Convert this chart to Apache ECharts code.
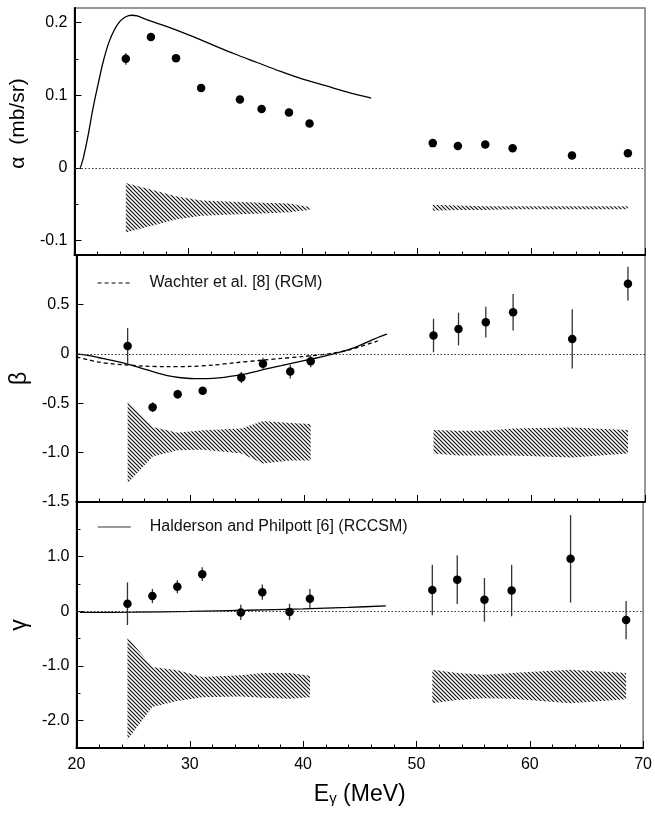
<!DOCTYPE html>
<html><head><meta charset="utf-8">
<script src="https://cdn.jsdelivr.net/npm/echarts@6/dist/echarts.min.js"></script>
<style>html,body{margin:0;padding:0;background:#fff}#c{width:655px;height:814px}</style>
</head><body><div id="c"></div>
<script>
// ---- data ----
const energies   = [24.5, 26.7, 28.9, 31.1, 34.5, 36.4, 38.8, 40.6, 51.4, 53.6, 56.0, 58.4, 63.6, 68.5];
const alphaVals  = [0.150, 0.180, 0.151, 0.110, 0.094, 0.081, 0.076, 0.061, 0.034, 0.030, 0.032, 0.027, 0.017, 0.020];
const alphaErrs  = [0.008, 0.004, 0.004, 0.004, 0.004, 0.004, 0.004, 0.004, 0.003, 0.003, 0.003, 0.003, 0.003, 0.003];
const betaVals   = [0.08, -0.54, -0.41, -0.375, -0.24, -0.10, -0.18, -0.075, 0.185, 0.25, 0.32, 0.42, 0.15, 0.71];
const betaErrs   = [0.18, 0.05, 0.045, 0.04, 0.055, 0.06, 0.07, 0.06, 0.17, 0.165, 0.155, 0.185, 0.30, 0.17];
const gammaVals  = [0.14, 0.28, 0.45, 0.68, -0.02, 0.35, -0.01, 0.23, 0.39, 0.58, 0.21, 0.38, 0.96, -0.16];
const gammaErrs  = [0.39, 0.13, 0.12, 0.125, 0.14, 0.14, 0.15, 0.18, 0.46, 0.445, 0.40, 0.47, 0.80, 0.35];

// systematic-error bands (upper / lower edges)
const bandE1 = [24.5, 26.7, 28.9, 31.1, 34.5, 36.4, 38.8, 40.6];
const bandE2 = [51.4, 53.6, 56.0, 58.4, 63.6, 68.5];
const alphaBandUp1 = [-0.021, -0.030, -0.039, -0.045, -0.047, -0.048, -0.049, -0.054];
const alphaBandLo1 = [-0.089, -0.080, -0.071, -0.066, -0.064, -0.063, -0.061, -0.058];
const alphaBandUp2 = [-0.051, -0.052, -0.053, -0.053, -0.053, -0.053];
const alphaBandLo2 = [-0.059, -0.058, -0.058, -0.057, -0.057, -0.057];
const betaBandUp1  = [-0.475, -0.74, -0.80, -0.775, -0.755, -0.68, -0.70, -0.71];
const betaBandLo1  = [-1.31, -1.04, -0.975, -0.97, -1.01, -1.11, -1.08, -1.08];
const betaBandUp2  = [-0.77, -0.78, -0.78, -0.755, -0.745, -0.77];
const betaBandLo2  = [-1.01, -1.03, -1.03, -1.03, -1.05, -1.01];
const gammaBandUp1 = [-0.47, -1.02, -1.08, -1.20, -1.17, -1.13, -1.13, -1.18];
const gammaBandLo1 = [-2.35, -1.75, -1.64, -1.57, -1.56, -1.58, -1.60, -1.57];
const gammaBandUp2 = [-1.07, -1.13, -1.16, -1.13, -1.07, -1.13];
const gammaBandLo2 = [-1.68, -1.62, -1.59, -1.60, -1.68, -1.61];

// theory curves
const alphaTheoryE = [20.5, 20.6, 20.8, 21.2, 21.6, 22.0, 22.5, 23.0, 23.5, 24.0, 24.5, 25.0, 25.5, 26.5, 28, 30, 32, 34, 36, 38, 40, 42, 44, 46];
const alphaTheory  = [0, 0.004, 0.015, 0.045, 0.08, 0.11, 0.145, 0.172, 0.19, 0.202, 0.208, 0.21, 0.209, 0.203, 0.195, 0.183, 0.17, 0.157, 0.145, 0.133, 0.122, 0.113, 0.104, 0.096];
const betaSolidE = [20, 21, 22, 23, 24, 25, 26, 27, 28, 29, 30, 31, 32, 33, 34, 35, 36, 37, 38, 39, 40, 41, 42, 43, 44, 45, 46, 46.5, 47.3];
const betaSolid  = [0, -0.015, -0.04, -0.065, -0.09, -0.12, -0.155, -0.19, -0.22, -0.24, -0.25, -0.252, -0.248, -0.238, -0.222, -0.2, -0.172, -0.145, -0.12, -0.095, -0.07, -0.045, -0.018, 0.012, 0.045, 0.09, 0.14, 0.165, 0.2];
const betaDashE = [20, 21, 22, 23, 24, 26, 28, 30, 32, 34, 36, 38, 40, 42, 44, 46.5];
const betaDash  = [-0.03, -0.06, -0.085, -0.10, -0.11, -0.125, -0.13, -0.128, -0.115, -0.09, -0.068, -0.047, -0.027, -0.003, 0.04, 0.13];
const gammaTheoryE = [20.3, 25, 30, 35, 40, 44, 47.3];
const gammaTheory  = [-0.02, -0.015, 0.0, 0.02, 0.045, 0.072, 0.1];

// tick labels
const alphaTicks = [-0.1, 0, 0.1, 0.2];
const alphaMinor = [-0.05, 0.05, 0.15];
const gammaTicks = [-2, -1, 0, 1];
const gammaMinor = [-1.5, -0.5, 0.5, 1.5];

const wachterName = 'Wachter et al. [8] (RGM)';
const haldName = 'Halderson and Philpott [6] (RCCSM)';
const FONT = 'Liberation Sans, Arial, Helvetica, sans-serif';

// ---- hatch pattern ----
function makeHatch() {
  const c = document.createElement('canvas');
  c.width = 4; c.height = 4;
  const g = c.getContext('2d');
  g.strokeStyle = '#111'; g.lineWidth = 1.2;
  g.beginPath();
  g.moveTo(-1, -1); g.lineTo(5, 5);
  g.moveTo(-1, 3); g.lineTo(1, 5);
  g.moveTo(3, -1); g.lineTo(5, 1);
  g.stroke();
  return c;
}
const hatch = makeHatch();

const zip = (xs, ys) => xs.map((x, i) => [x, ys[i]]);
const fmt = v => (v === 0 ? '0' : v.toFixed(1));

// band: one polygon through the upper edge forward and the lower edge backward
function band(xs, up, lo, gi) {
  return { type: 'custom', xAxisIndex: gi, yAxisIndex: gi, silent: true, z: 1,
    encode: { x: 0, y: [1, 2] },
    data: xs.map((x, i) => [x, up[i], lo[i]]),
    renderItem: (params, api) => {
      if (params.dataIndex !== 0) return null;
      const pts = [];
      for (let i = 0; i < xs.length; i++) pts.push(api.coord([xs[i], up[i]]));
      for (let i = xs.length - 1; i >= 0; i--) pts.push(api.coord([xs[i], lo[i]]));
      return { type: 'polygon', shape: { points: pts },
        style: { fill: { image: hatch, repeat: 'repeat' }, stroke: null } };
    } };
}
function errBars(ys, es, gi) {
  return { type: 'custom', xAxisIndex: gi, yAxisIndex: gi, silent: true, z: 3,
    encode: { x: 0, y: 1 },
    data: energies.map((x, i) => [x, ys[i], es[i]]),
    renderItem: (params, api) => {
      const x = api.value(0), y = api.value(1), e = api.value(2);
      const p1 = api.coord([x, y - e]), p2 = api.coord([x, y + e]);
      return { type: 'line', shape: { x1: p1[0], y1: p1[1], x2: p2[0], y2: p2[1] },
        style: { stroke: '#333', lineWidth: 1.3 } };
    } };
}
function points(ys, gi) {
  return { type: 'scatter', xAxisIndex: gi, yAxisIndex: gi, symbolSize: 8.5, z: 4, silent: true,
    itemStyle: { color: '#000', opacity: 1 }, data: zip(energies, ys),
    markLine: { silent: true, symbol: 'none', label: { show: false }, animation: false,
      lineStyle: { color: '#333', type: [1.5, 2], width: 1 }, data: [{ yAxis: 0 }] } };
}
function curve(name, xs, ys, gi, dashed) {
  return { type: 'line', name: name, xAxisIndex: gi, yAxisIndex: gi, symbol: 'none', showSymbol: false,
    smooth: 0.3, z: 2, silent: true, data: zip(xs, ys),
    itemStyle: { color: '#000' },
    lineStyle: { color: '#000', width: 1.3, type: dashed ? [4, 3] : 'solid' } };
}

const grids = [
  { left: 73, right: 10, top: 8, height: 247 },
  { left: 73, right: 10, top: 255, height: 247 },
  { left: 73, right: 10, top: 502, height: 246 }
].map(g => Object.assign(g, { show: true, borderColor: '#777', borderWidth: 1.5, containLabel: false }));

const xAxes = [0, 1, 2].map(gi => ({
  type: 'value', gridIndex: gi, min: 20, max: 70, interval: 10,
  axisLine: { show: true, onZero: false, lineStyle: { color: '#000', width: 2 } },
  axisTick: { show: true, inside: true, length: 7, lineStyle: { color: '#000', width: 1 } },
  minorTick: { show: true, splitNumber: 5, length: 3.5, lineStyle: { color: '#000', width: 1 } },
  splitLine: { show: false }, minorSplitLine: { show: false },
  axisLabel: { show: gi === 2, fontSize: 16, color: '#000', margin: 9, fontFamily: FONT },
  name: gi === 2 ? '{e|E}{g|\u03b3}{e| (MeV)}' : '',
  nameLocation: 'middle', nameGap: 10,
  nameTextStyle: { color: '#000', fontFamily: FONT,
    rich: { e: { fontSize: 23, lineHeight: 23, verticalAlign: 'top', fontFamily: FONT, color: '#000' },
            g: { fontSize: 15, lineHeight: 15, padding: [17, 0, 0, 0], verticalAlign: 'bottom', fontFamily: FONT, color: '#000' } } }
}));

const yCommon = {
  type: 'value', position: 'left',
  axisLine: { show: true, onZero: false, lineStyle: { color: '#000', width: 2 } },
  splitLine: { show: false },
  nameLocation: 'middle', nameGap: 38
};
const yAxes = [
  Object.assign({}, yCommon, { gridIndex: 0, min: -0.12, max: 0.22, splitNumber: 3,
    axisTick: { show: true, inside: true, length: 7, customValues: alphaTicks, lineStyle: { color: '#000' } },
    axisLabel: { fontSize: 16, color: '#000', margin: 7, fontFamily: FONT, customValues: alphaTicks,
      formatter: v => (Math.abs(v * 10 - Math.round(v * 10)) < 1e-6 ? fmt(v) : '') },
    name: '\u03b1  (mb/sr)', nameTextStyle: { fontSize: 21, color: '#000', fontFamily: FONT, padding: [0, 0, 0, 16] } }),
  Object.assign({}, yCommon, { gridIndex: 1, min: -1.5, max: 1.0, interval: 0.5,
    axisTick: { show: true, inside: true, length: 7, lineStyle: { color: '#000' } },
    axisLabel: { fontSize: 16, color: '#000', margin: 7, fontFamily: FONT, showMaxLabel: false,
      formatter: v => (v > 0.9 ? '' : fmt(v)) },
    name: '\u03b2', nameTextStyle: { fontSize: 23, color: '#000', fontFamily: FONT } }),
  Object.assign({}, yCommon, { gridIndex: 2, min: -2.5, max: 2.0, interval: 0.5,
    axisTick: { show: true, inside: true, length: 7, customValues: gammaTicks, lineStyle: { color: '#000' } },
    axisLabel: { fontSize: 16, color: '#000', margin: 7, fontFamily: FONT, customValues: gammaTicks,
      formatter: v => ((Math.abs(v - Math.round(v)) < 1e-6 && v < 1.9 && v > -2.4) ? fmt(v) : '') },
    name: '\u03b3', nameTextStyle: { fontSize: 23, color: '#000', fontFamily: FONT } }),
  // minor-tick helper axes
  { type: 'value', gridIndex: 0, position: 'left', min: -0.12, max: 0.22,
    axisLine: { show: false }, axisLabel: { show: false }, splitLine: { show: false },
    axisTick: { show: true, inside: true, length: 4, customValues: alphaMinor, lineStyle: { color: '#000' } } },
  { type: 'value', gridIndex: 2, position: 'left', min: -2.5, max: 2.0,
    axisLine: { show: false }, axisLabel: { show: false }, splitLine: { show: false },
    axisTick: { show: true, inside: true, length: 4, customValues: gammaMinor, lineStyle: { color: '#000' } } }
];

const series = [
  band(bandE1, alphaBandUp1, alphaBandLo1, 0),
  band(bandE2, alphaBandUp2, alphaBandLo2, 0),
  band(bandE1, betaBandUp1, betaBandLo1, 1),
  band(bandE2, betaBandUp2, betaBandLo2, 1),
  band(bandE1, gammaBandUp1, gammaBandLo1, 2),
  band(bandE2, gammaBandUp2, gammaBandLo2, 2),
  curve(haldName, alphaTheoryE, alphaTheory, 0, false),
  curve(haldName, betaSolidE, betaSolid, 1, false),
  curve(wachterName, betaDashE, betaDash, 1, true),
  curve(haldName, gammaTheoryE, gammaTheory, 2, false),
  errBars(alphaVals, alphaErrs, 0), points(alphaVals, 0),
  errBars(betaVals, betaErrs, 1), points(betaVals, 1),
  errBars(gammaVals, gammaErrs, 2), points(gammaVals, 2)
];

const legendCommon = { left: 97, orient: 'horizontal', itemWidth: 33, itemHeight: 12, padding: 0,
  selectedMode: false, itemStyle: { opacity: 0 },
  textStyle: { fontSize: 16, color: '#111', fontFamily: FONT, padding: [0, 0, 0, 14] } };

const option = {
  animation: false,
  textStyle: { fontFamily: FONT },
  grid: grids, xAxis: xAxes, yAxis: yAxes,
  legend: [
    Object.assign({}, legendCommon, { top: 275, data: [{ name: wachterName }], lineStyle: { width: 1.2 } }),
    Object.assign({}, legendCommon, { top: 519, data: [{ name: haldName }], lineStyle: { color: '#777', width: 1.6 } })
  ],
  series: series
};
const chart = echarts.init(document.getElementById('c'), null, { renderer: 'canvas' });
chart.setOption(option);
</script></body></html>
